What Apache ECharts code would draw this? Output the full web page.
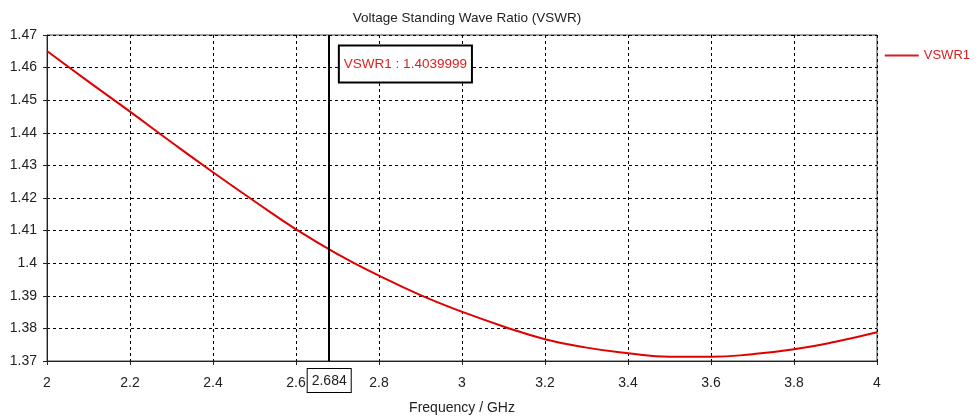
<!DOCTYPE html>
<html>
<head>
<meta charset="utf-8">
<script src="https://cdn.jsdelivr.net/npm/echarts@6/dist/echarts.min.js"></script>
<style>
  html, body { margin: 0; padding: 0; background: #fff; }
  #chart { width: 976px; height: 418px; }
</style>
</head>
<body>
<div id="chart"></div>
<script>
  // 频率 (GHz) 与 VSWR 读数
  var freq = [2.0, 2.1, 2.2, 2.3, 2.4, 2.5, 2.6, 2.7, 2.8, 2.9, 3.0, 3.1, 3.2, 3.3, 3.4, 3.5, 3.6, 3.7, 3.8, 3.9, 4.0];
  var vswr = [1.4651, 1.4557, 1.4465, 1.4371, 1.4279, 1.4190, 1.4104, 1.4028, 1.3962, 1.3902, 1.3851, 1.3806, 1.3767, 1.3741, 1.3724, 1.3713, 1.3713, 1.3721, 1.3736, 1.3759, 1.3788];
  var markerFreq = 2.684;
  var markerText = 'VSWR1 : 1.4039999';
  var seriesName = 'VSWR1';

  var font = 'Liberation Sans';
  var chart = echarts.init(document.getElementById('chart'));

  chart.setOption({
    animation: false,
    title: {
      text: 'Voltage Standing Wave Ratio (VSWR)',
      left: 462,
      textAlign: 'center',
      top: 6,
      textStyle: { fontFamily: font, fontSize: 13.5, fontWeight: 'normal', color: '#222' }
    },
    legend: {
      right: 1,
      top: 44,
      icon: 'rect',
      itemWidth: 34,
      itemHeight: 2,
      itemGap: 4,
      textStyle: { fontFamily: font, fontSize: 13, color: '#d42020' },
      data: [seriesName]
    },
    grid: {
      left: 47, right: 99, top: 35, bottom: 57,
      outerBoundsMode: 'none',
      containLabel: false,
      show: true, borderColor: '#444', borderWidth: 1
    },
    xAxis: {
      type: 'value',
      min: 2, max: 4, interval: 0.2,
      name: 'Frequency / GHz',
      nameLocation: 'middle',
      nameGap: 40,
      nameTextStyle: { fontFamily: font, fontSize: 14, color: '#222' },
      axisLine: { lineStyle: { color: '#222', width: 1 } },
      axisTick: { show: true, length: 4, lineStyle: { color: '#222' } },
      axisLabel: {
        fontFamily: font, fontSize: 14, color: '#222', margin: 15,
        formatter: function (v) { return +v.toFixed(1); }
      },
      splitLine: { show: true, lineStyle: { color: '#000', type: [3, 3], width: 1 } }
    },
    yAxis: {
      type: 'value',
      min: 1.37, max: 1.47, interval: 0.01,
      axisLine: { show: true, lineStyle: { color: '#222', width: 1 } },
      axisTick: { show: true, length: 4, lineStyle: { color: '#222' } },
      axisLabel: {
        fontFamily: font, fontSize: 14, color: '#222', margin: 10,
        formatter: function (v) { return +v.toFixed(2); }
      },
      splitLine: { show: true, lineStyle: { color: '#000', type: [3, 3], width: 1 } }
    },
    series: [{
      name: seriesName,
      type: 'line',
      smooth: true,
      symbol: 'none',
      data: freq.map(function (f, i) { return [f, vswr[i]]; }),
      lineStyle: { color: '#e00000', width: 2 },
      itemStyle: { color: '#d42020' },
      markLine: {
        silent: true,
        symbol: 'none',
        lineStyle: { color: '#000', width: 2, type: 'solid' },
        label: {
          show: true,
          position: 'start',
          distance: 8,
          formatter: String(markerFreq),
          fontFamily: font, fontSize: 14, color: '#222',
          backgroundColor: '#fff',
          borderColor: '#000', borderWidth: 1,
          padding: [5, 4, 4, 4]
        },
        data: [{ xAxis: markerFreq }]
      },
      markPoint: {
        silent: true,
        symbol: 'rect',
        symbolSize: 0,
        label: {
          show: true,
          position: 'right',
          distance: 9,
          formatter: markerText,
          fontFamily: font, fontSize: 13.5, color: '#e02020',
          backgroundColor: '#fff',
          borderColor: '#000', borderWidth: 2,
          padding: [11, 4, 10, 4]
        },
        data: [{ coord: [markerFreq, 1.4611] }]
      }
    }]
  });
</script>
</body>
</html>
